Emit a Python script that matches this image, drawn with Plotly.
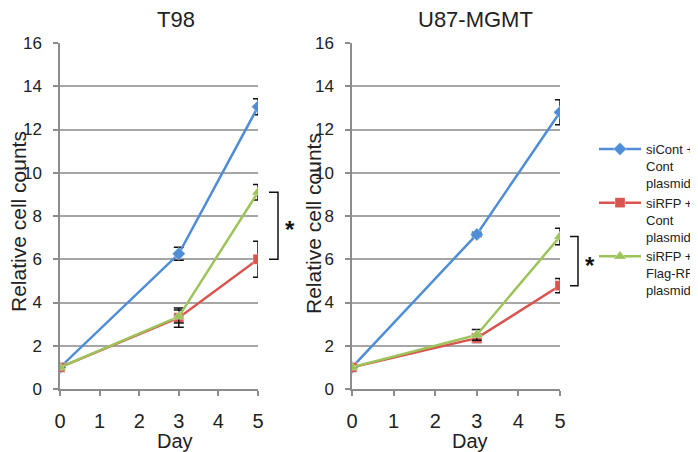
import plotly.graph_objects as go

# page body has an 8px margin; compensate so pixel positions match the reference
OFF = 8
W, H = 698 - OFF, 452 - OFF

days = [0, 3, 5]
x_ticks = [0, 1, 2, 3, 4, 5]
y_ticks = [0, 2, 4, 6, 8, 10, 12, 14, 16]

series_names = ["siCont +<br>Cont<br>plasmid",
                "siRFP +<br>Cont<br>plasmid",
                "siRFP +<br>Flag-RFP<br>plasmid"]

t98_cont = [1.0, 6.25, 13.05]
t98_cont_err = [0.0, 0.3, 0.37]
t98_sirfp = [1.0, 3.3, 6.0]
t98_sirfp_err = [0.0, 0.45, 0.83]
t98_rescue = [1.0, 3.35, 9.1]
t98_rescue_err = [0.0, 0.3, 0.36]

u87_cont = [1.0, 7.15, 12.8]
u87_cont_err = [0.0, 0.1, 0.58]
u87_sirfp = [1.0, 2.35, 4.78]
u87_sirfp_err = [0.0, 0.2, 0.33]
u87_rescue = [1.0, 2.5, 7.05]
u87_rescue_err = [0.0, 0.25, 0.38]

colors = ["#4F8ED6", "#D9544F", "#9CC459"]
symbols = ["diamond", "square", "triangle-up"]
msizes = [10, 10, 11]

FONT = "Liberation Sans, Arial, sans-serif"

def px_x(p):
    return (p - OFF) / W

def px_y(p):
    return 1 - (p - OFF) / H

fig = go.Figure()

panels = [
    ("x", "y", [(t98_cont, t98_cont_err), (t98_sirfp, t98_sirfp_err), (t98_rescue, t98_rescue_err)], True),
    ("x2", "y2", [(u87_cont, u87_cont_err), (u87_sirfp, u87_sirfp_err), (u87_rescue, u87_rescue_err)], False),
]

for xa, ya, data, show in panels:
    for i, (vals, errs) in enumerate(data):
        fig.add_trace(go.Scatter(
            x=days, y=vals, xaxis=xa, yaxis=ya,
            mode="lines+markers",
            name=series_names[i],
            showlegend=show,
            line=dict(color=colors[i], width=2.5),
            marker=dict(symbol=symbols[i], size=msizes[i], color=colors[i],
                        line=dict(color="rgba(255,255,255,0.35)", width=1)),
            error_y=dict(type="data", array=errs, visible=True,
                         color="#111111", thickness=1.5, width=5),
        ))

ydom = [px_y(389), px_y(43)]
axis_common = dict(showline=True, linecolor="#8C8C8C", linewidth=1.5,
                   ticks="outside", tickcolor="#8C8C8C", ticklen=5, tickwidth=1.5,
                   zeroline=False, automargin=False)

fig.update_layout(
    width=W, height=H,
    margin=dict(l=0, r=0, t=0, b=0, autoexpand=False),
    paper_bgcolor="white", plot_bgcolor="white",
    font=dict(family=FONT, color="#222222"),
    xaxis=dict(domain=[px_x(60), px_x(258)], range=[0, 5], tickvals=x_ticks,
               showgrid=False, tickfont=dict(size=20), ticklabelstandoff=8,
               anchor="y", **axis_common),
    yaxis=dict(domain=ydom, range=[0, 16], tickvals=y_ticks,
               showgrid=True, gridcolor="#A6A6A6", gridwidth=1.5,
               tickfont=dict(size=17), ticklabelstandoff=8,
               anchor="x", **axis_common),
    xaxis2=dict(domain=[px_x(352), px_x(560)], range=[0, 5], tickvals=x_ticks,
                showgrid=False, tickfont=dict(size=20), ticklabelstandoff=8,
                anchor="y2", **axis_common),
    yaxis2=dict(domain=ydom, range=[0, 16], tickvals=y_ticks,
                showgrid=True, gridcolor="#A6A6A6", gridwidth=1.5,
                tickfont=dict(size=17), ticklabelstandoff=8,
                anchor="x2", **axis_common),
    legend=dict(x=px_x(594), y=px_y(134), xanchor="left", yanchor="top",
                font=dict(size=13, family=FONT, color="#222222"),
                valign="top", itemwidth=42, tracegroupgap=0,
                bgcolor="rgba(0,0,0,0)"),
)

ann = []
ann.append(dict(text="T98", x=px_x(176), y=px_y(20), xref="paper", yref="paper",
                showarrow=False, font=dict(size=22), xanchor="center", yanchor="middle"))
ann.append(dict(text="U87-MGMT", x=px_x(475), y=px_y(20), xref="paper", yref="paper",
                showarrow=False, font=dict(size=22), xanchor="center", yanchor="middle"))
for cx, cy in [(19, 222), (313, 224)]:
    ann.append(dict(text="Relative cell counts", x=px_x(cx), y=px_y(cy), xref="paper", yref="paper",
                    showarrow=False, textangle=-90, font=dict(size=21),
                    xanchor="center", yanchor="middle", borderpad=0))
for cx in [175, 470]:
    ann.append(dict(text="Day", x=px_x(cx), y=px_y(441), xref="paper", yref="paper",
                    showarrow=False, font=dict(size=20), xanchor="center", yanchor="middle",
                    borderpad=0))

shapes = []
brackets = [("y", t98_rescue[-1], t98_sirfp[-1], 269, 278, 290),
            ("y2", u87_rescue[-1], u87_sirfp[-1], 570, 578, 590)]
for yref, top, bot, x0, x1, xs in brackets:
    shapes.append(dict(type="path", xref="paper", yref=yref,
                       path=f"M {px_x(x0)},{top} L {px_x(x1)},{top} L {px_x(x1)},{bot} L {px_x(x0)},{bot}",
                       line=dict(color="#111111", width=1.5)))
    ann.append(dict(text="<b>*</b>", x=px_x(xs), y=(top + bot) / 2, xref="paper", yref=yref,
                    showarrow=False, font=dict(size=24, color="#111111"),
                    xanchor="center", yanchor="middle", yshift=-4))

fig.update_layout(annotations=ann, shapes=shapes)

fig.write_html("out.html")
